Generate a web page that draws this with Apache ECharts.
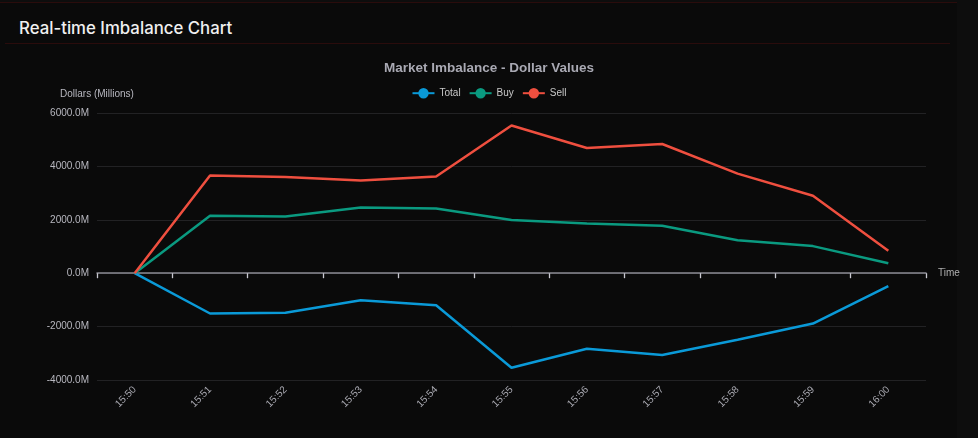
<!DOCTYPE html>
<html>
<head>
<meta charset="utf-8">
<script src="https://cdn.jsdelivr.net/npm/echarts@6/dist/echarts.min.js"></script>
<style>
html,body{margin:0;padding:0;background:#0d0d0d;width:978px;height:438px;overflow:hidden;}
#card{position:absolute;left:0;top:2px;width:957px;height:436px;background:#0a0a0a;border-top:1px solid #2a0c0c;}
#hdr{position:absolute;left:5px;top:2px;width:945px;height:41px;border-bottom:1px solid #2a0c0c;}
#hdr span{position:absolute;left:14px;top:16px;font-family:Inter,"Noto Sans",sans-serif;font-size:16.8px;color:#f0f0f0;font-weight:500;}
#chart{position:absolute;left:0;top:0;width:978px;height:438px;}
</style>
</head>
<body>
<div id="card"></div>
<div id="hdr"><span>Real-time Imbalance Chart</span></div>
<div id="chart"></div>
<script>
const categories = ['15:50','15:51','15:52','15:53','15:54','15:55','15:56','15:57','15:58','15:59','16:00'];
const totalValues = [0, -1510, -1480, -1010, -1200, -3540, -2830, -3060, -2495, -1885, -480];
const buyValues   = [0, 2150, 2120, 2460, 2420, 1990, 1860, 1780, 1235, 1015, 370];
const sellValues  = [0, 3660, 3600, 3470, 3620, 5530, 4690, 4840, 3730, 2900, 840];
const seriesNames = ['Total','Buy','Sell'];
const seriesColors = ['#0a9ad8','#0a9a80','#ef4f3f'];

const chart = echarts.init(document.getElementById('chart'), null, {renderer:'canvas'});
const font = '"Liberation Sans", Arial, sans-serif';
const mk = (i, data) => ({
  name: seriesNames[i], type: 'line', data: data,
  symbol: 'circle', symbolSize: 7, showSymbol: false,
  lineStyle: {width: 2.5, color: seriesColors[i]},
  itemStyle: {color: seriesColors[i]}
});
chart.setOption({
  backgroundColor: 'transparent',
  animation: false,
  textStyle: {fontFamily: font},
  title: {
    text: 'Market Imbalance - Dollar Values', left: 'center', top: 56,
    textStyle: {color: '#a9a9b3', fontSize: 13.5, fontWeight: 'bold', fontFamily: font}
  },
  legend: {
    data: seriesNames, top: 83, left: 'center', itemGap: 8, itemWidth: 22, itemHeight: 13,
    textStyle: {color: '#c8c8c8', fontSize: 10, fontFamily: font}
  },
  grid: {left: 97, right: 52, top: 113, bottom: 58, containLabel: false},
  xAxis: {
    type: 'category', data: categories, boundaryGap: true,
    name: 'Time', nameGap: 12, nameTextStyle: {color: '#b0b0b0', fontSize: 10},
    axisLine: {show: true, onZero: true, lineStyle: {color: '#8a8a92', width: 1.5}},
    axisTick: {show: true, interval: 0, inside: false, length: 5, lineStyle: {color: '#c8c8d0', width: 1.3, opacity: 1}},
    axisLabel: {rotate: 45, color: '#a8a8b0', fontSize: 10, margin: 8}
  },
  yAxis: {
    type: 'value', min: -4000, max: 6000, interval: 2000,
    name: 'Dollars (Millions)', nameGap: 14, nameTextStyle: {color: '#b8b8c0', fontSize: 10},
    axisLine: {show: false}, axisTick: {show: false},
    axisLabel: {color: '#b8b8c0', fontSize: 10, formatter: v => v.toFixed(1) + 'M'},
    splitLine: {lineStyle: {color: '#222224', width: 1}}
  },
  series: [mk(0, totalValues), mk(1, buyValues), mk(2, sellValues)]
});
</script>
</body>
</html>
